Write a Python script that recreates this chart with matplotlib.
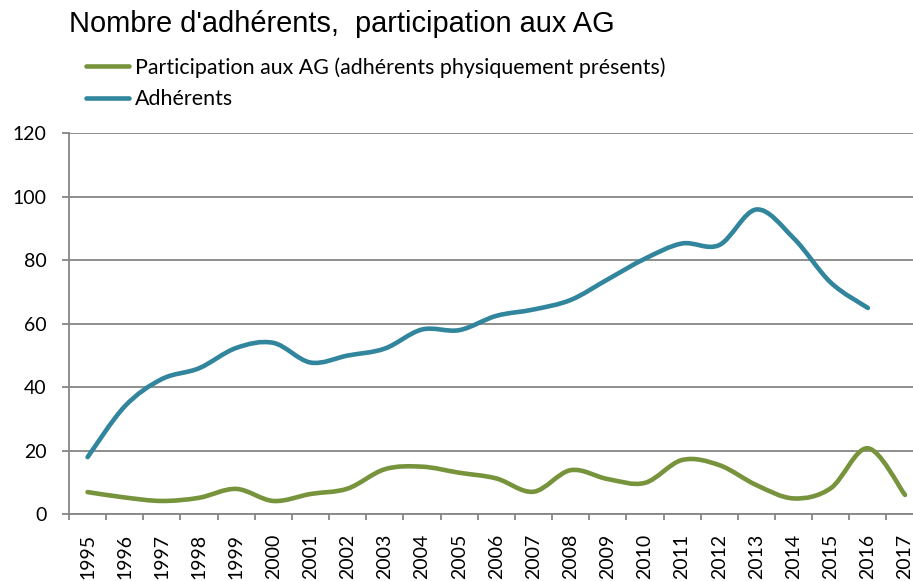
import numpy as np
import matplotlib
matplotlib.use("Agg")
import matplotlib.pyplot as plt
from matplotlib.path import Path
from matplotlib.patches import PathPatch
from matplotlib.lines import Line2D
from matplotlib.ticker import FixedLocator

years = [str(y) for y in range(1995, 2018)]
adherents = [18, 34, 42.6, 46, 52.4, 54, 47.8, 50, 52.2, 58.2, 58, 62.5, 64.5,
             67.5, 74, 80.5, 85.3, 84.8, 96, 87, 73, 65]
participation = [7, 5.3, 4.2, 5.2, 8, 4.2, 6.4, 8.1, 14.2, 15, 13.1, 11.3, 7.1,
                 13.9, 11.1, 9.9, 17.1, 15.5, 9.2, 5, 8.2, 20.8, 6.1]
yticks = [0, 20, 40, 60, 80, 100, 120]

title = "Nombre d'adhérents,  participation aux AG"
label_part = "Participation aux AG (adhérents physiquement présents)"
label_adh = "Adhérents"

GREEN = "#77933C"
BLUE = "#31859C"
GRAY = "#868686"


def smooth_path(xs, ys):
    pts = np.column_stack([xs, ys]).astype(float)
    n = len(pts)
    verts = [pts[0]]
    codes = [Path.MOVETO]
    for i in range(n - 1):
        p0 = pts[i - 1] if i > 0 else pts[i]
        p1 = pts[i]
        p2 = pts[i + 1]
        p3 = pts[i + 2] if i + 2 < n else pts[i + 1]
        c1 = p1 + (p2 - p0) / 6.0
        c2 = p2 - (p3 - p1) / 6.0
        verts += [c1, c2, p2]
        codes += [Path.CURVE4] * 3
    return Path(verts, codes)


W, H = 913, 581
fig = plt.figure(figsize=(W / 100, H / 100), dpi=100)
left_px, right_px = 69, 923.6
top_px, bottom_px = 133.3, 514.3
ax = fig.add_axes([left_px / W, 1 - bottom_px / H,
                   (right_px - left_px) / W, (bottom_px - top_px) / H])

x_all = np.arange(len(years))
lw = 3.3
p_adh = PathPatch(smooth_path(x_all[:len(adherents)], adherents), fill=False,
                  edgecolor=BLUE, lw=lw, capstyle="round", joinstyle="round", zorder=3)
p_part = PathPatch(smooth_path(x_all[:len(participation)], participation), fill=False,
                   edgecolor=GREEN, lw=lw, capstyle="round", joinstyle="round", zorder=3)
ax.add_patch(p_adh)
ax.add_patch(p_part)

ax.set_xlim(-0.5, len(years) - 0.5)
ax.set_ylim(0, 120)

for s in ["top", "right"]:
    ax.spines[s].set_visible(False)
for s in ["left", "bottom"]:
    ax.spines[s].set_color(GRAY)
    ax.spines[s].set_linewidth(1.3)

ax.yaxis.grid(True, color=GRAY, lw=1.3)
ax.set_axisbelow(True)

tick_font = dict(family=["Lato", "DejaVu Sans"], size=14)
ax.set_yticks(yticks)
ax.set_yticklabels([str(v) for v in yticks], **tick_font)
ax.tick_params(axis="y", length=5, width=1.3, color=GRAY, pad=11)

ax.set_xticks(x_all)
ax.set_xticklabels(years, rotation=90, **tick_font)
ax.xaxis.set_minor_locator(FixedLocator(np.arange(-0.5, len(years), 1.0)))
ax.tick_params(axis="x", which="major", length=0, pad=14)
ax.tick_params(axis="x", which="minor", length=4.5, width=1.3, color=GRAY)

fig.text(69 / W, 1 - 32 / H, title, family=["Liberation Sans", "DejaVu Sans"],
         size=20.9, ha="left", va="baseline")

handles = [Line2D([], [], color=GREEN, lw=lw, solid_capstyle="round"),
           Line2D([], [], color=BLUE, lw=lw, solid_capstyle="round")]
fig.legend(handles, [label_part, label_adh], loc="upper left",
           bbox_to_anchor=(86 / W, 1 - 57 / H), frameon=False,
           prop={"family": ["Lato", "DejaVu Sans"], "size": 15.4},
           handlelength=2.03, handletextpad=0.25, labelspacing=0.55,
           borderaxespad=0, borderpad=0)

fig.savefig("out.png", dpi=100)
